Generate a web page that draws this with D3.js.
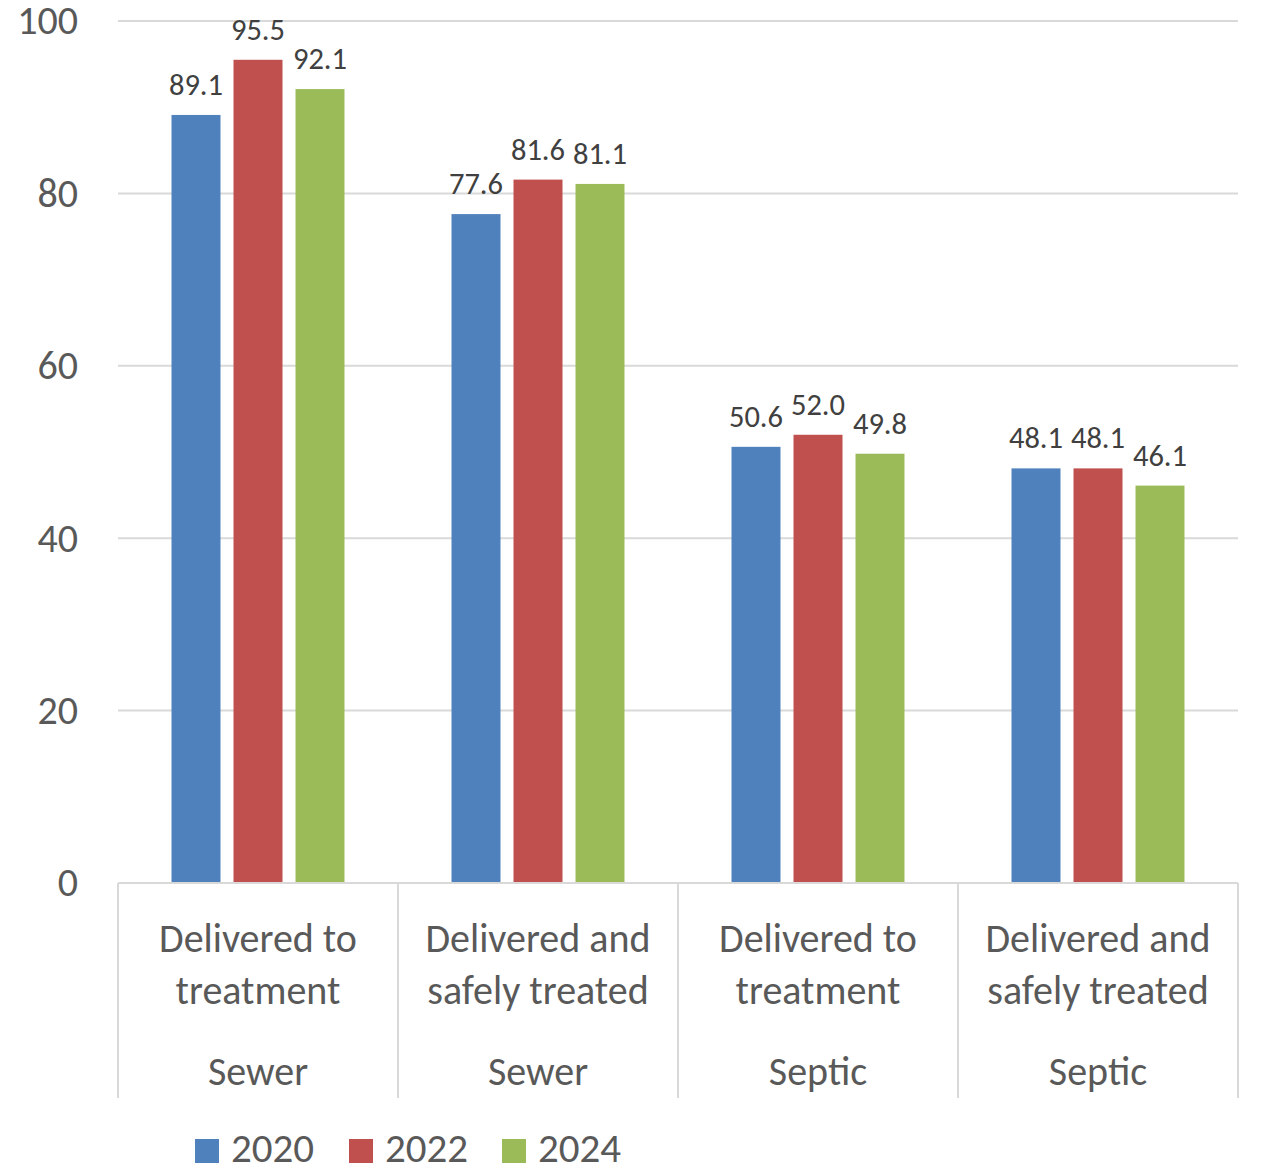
<!DOCTYPE html>
<html>
<head>
<meta charset="utf-8">
<script src="https://cdn.jsdelivr.net/npm/d3@7"></script>
<style>
  html, body { margin: 0; padding: 0; background: #ffffff; }
  svg text { font-family: Carlito, Calibri, Lato, sans-serif; fill: #595959; }
</style>
</head>
<body>
<svg id="chart" width="1261" height="1169"></svg>
<script>
// ---- data ----
const categories = ["Delivered to treatment", "Delivered and safely treated", "Delivered to treatment", "Delivered and safely treated"];
const categoryLines = [["Delivered to", "treatment"], ["Delivered and", "safely treated"], ["Delivered to", "treatment"], ["Delivered and", "safely treated"]];
const groupLabels = ["Sewer", "Sewer", "Septic", "Septic"];
const seriesNames = ["2020", "2022", "2024"];
const values2020 = [89.1, 77.6, 50.6, 48.1];
const values2022 = [95.5, 81.6, 52.0, 48.1];
const values2024 = [92.1, 81.1, 49.8, 46.1];
const seriesColors = ["#4F81BD", "#C0504D", "#9BBB59"];
const yTicks = [0, 20, 40, 60, 80, 100];

const seriesValues = [values2020, values2022, values2024];

// ---- layout ----
const svg = d3.select("#chart");
const plotLeft = 118, plotRight = 1238, plotTop = 21, plotBottom = 883;

const x0 = d3.scaleBand().domain(d3.range(categories.length)).range([plotLeft, plotRight]).paddingInner(0).paddingOuter(0);
const x1 = d3.scaleBand().domain(seriesNames).range([0, x0.bandwidth()]).paddingInner(0.2097).paddingOuter(0.863);
const y = d3.scaleLinear().domain([0, 100]).range([plotBottom, plotTop]);

// gridlines
svg.append("g").selectAll("line").data(yTicks.filter(t => t > 0)).join("line")
  .attr("x1", plotLeft).attr("x2", plotRight)
  .attr("y1", d => y(d)).attr("y2", d => y(d))
  .attr("stroke", "#D9D9D9").attr("stroke-width", 2);

// y axis labels
const yAxis = d3.axisLeft(y).tickValues(yTicks).tickSize(0).tickPadding(40);
const yg = svg.append("g").attr("transform", `translate(${plotLeft},0)`).call(yAxis);
yg.select(".domain").remove();
yg.selectAll("text").attr("font-size", 40).attr("fill", "#595959").attr("font-family", "Carlito, Calibri, Lato, sans-serif");

// bars
const groups = svg.append("g").selectAll("g").data(categories).join("g")
  .attr("transform", (d, i) => `translate(${x0(i)},0)`);

groups.each(function(cat, ci) {
  const g = d3.select(this);
  seriesNames.forEach((s, si) => {
    const v = seriesValues[si][ci];
    g.append("rect")
      .attr("x", x1(s)).attr("width", x1.bandwidth())
      .attr("y", y(v)).attr("height", y(0) - y(v))
      .attr("fill", seriesColors[si]);
    g.append("text")
      .attr("x", x1(s) + x1.bandwidth() / 2)
      .attr("y", y(v) - 20)
      .attr("text-anchor", "middle")
      .attr("font-size", 30.5)
      .style("fill", "#404040")
      .text(v.toFixed(1));
  });
});

// category axis
const xa = svg.append("g");
xa.append("line").attr("x1", plotLeft).attr("x2", plotRight).attr("y1", plotBottom).attr("y2", plotBottom)
  .attr("stroke", "#D9D9D9").attr("stroke-width", 2);
xa.selectAll("line.div").data(d3.range(categories.length + 1)).join("line").attr("class", "div")
  .attr("x1", i => i < categories.length ? x0(i) : plotRight)
  .attr("x2", i => i < categories.length ? x0(i) : plotRight)
  .attr("y1", plotBottom).attr("y2", 1098)
  .attr("stroke", "#D9D9D9").attr("stroke-width", 2);

categoryLines.forEach((lines, ci) => {
  const cx = x0(ci) + x0.bandwidth() / 2;
  lines.forEach((ln, li) => {
    xa.append("text").attr("x", cx).attr("y", 952 + li * 52)
      .attr("text-anchor", "middle").attr("font-size", 40).text(ln);
  });
  xa.append("text").attr("x", cx).attr("y", 1085)
    .attr("text-anchor", "middle").attr("font-size", 40).text(groupLabels[ci]);
});

// legend
const legendX = [195, 349, 502];
const lg = svg.append("g");
seriesNames.forEach((s, si) => {
  lg.append("rect").attr("x", legendX[si]).attr("y", 1139).attr("width", 24).attr("height", 24)
    .attr("fill", seriesColors[si]);
  lg.append("text").attr("x", legendX[si] + 36).attr("y", 1162)
    .attr("font-size", 41).text(s);
});
</script>
</body>
</html>
